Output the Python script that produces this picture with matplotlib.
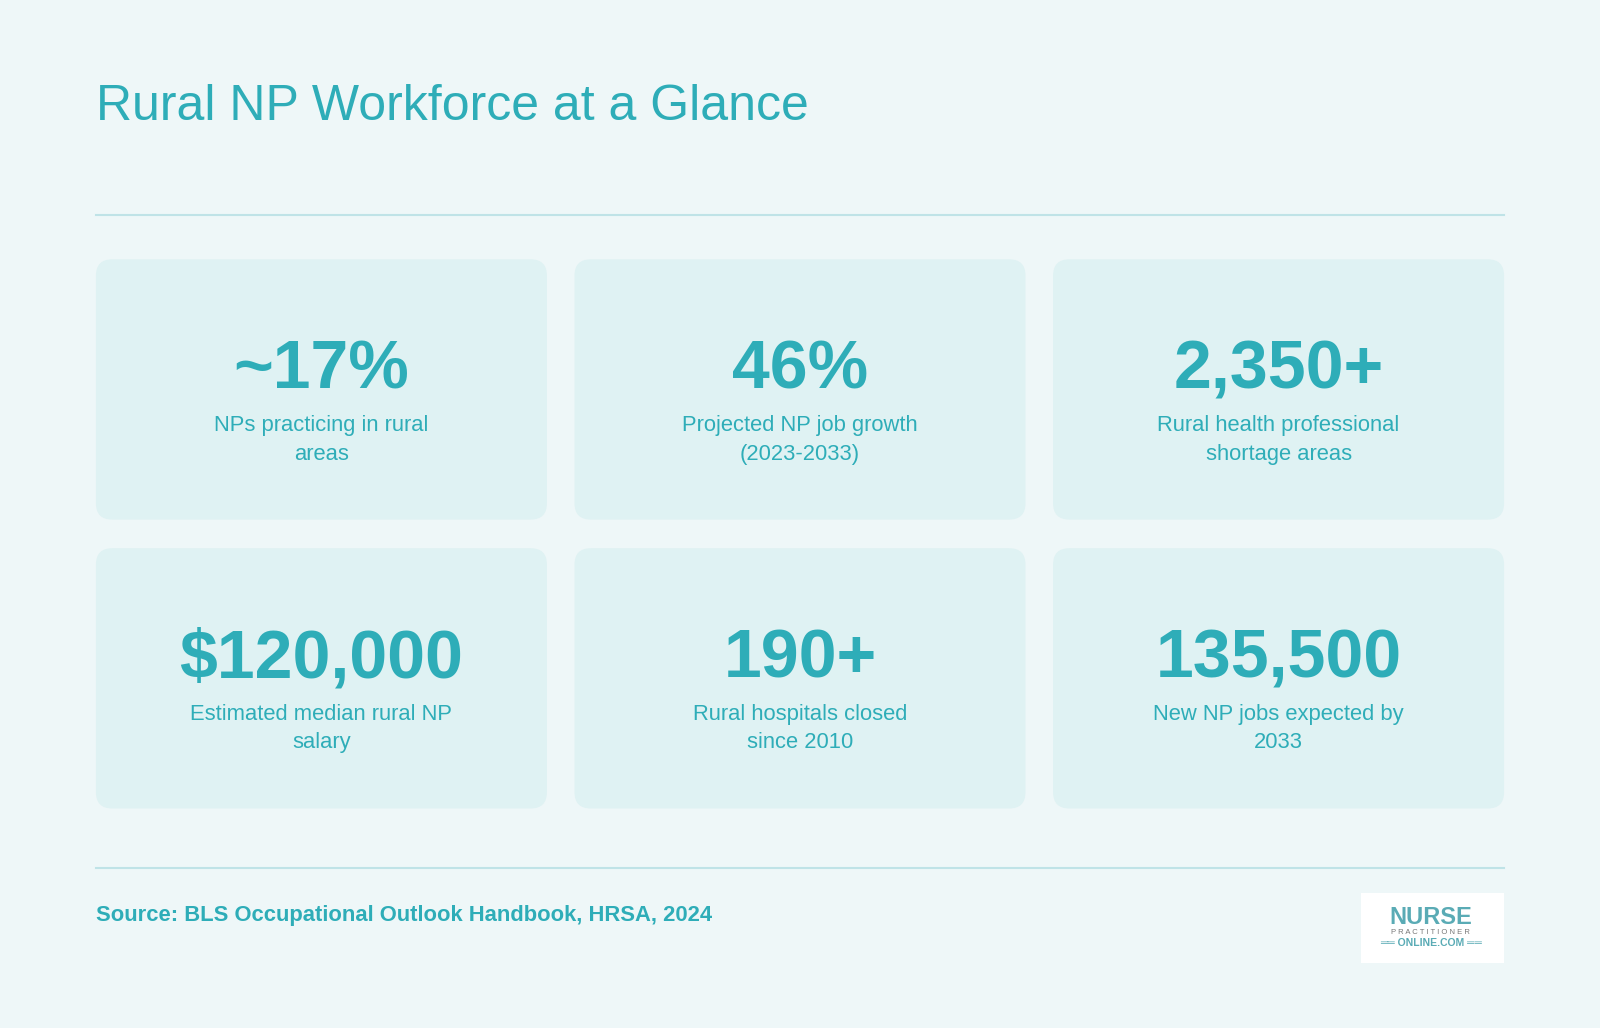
import matplotlib.pyplot as plt
from matplotlib.patches import FancyBboxPatch, Rectangle

values = ["~17%", "46%", "2,350+", "$120,000", "190+", "135,500"]
labels = ["NPs practicing in rural\nareas", "Projected NP job growth\n(2023-2033)",
          "Rural health professional\nshortage areas", "Estimated median rural NP\nsalary",
          "Rural hospitals closed\nsince 2010", "New NP jobs expected by\n2033"]

TEAL = "#2eadb8"
BG = "#eef7f8"
CARD = "#dff2f3"
LINE = "#bfe3e7"

W, H = 1568, 1007
fig = plt.figure(figsize=(16, 10.28), dpi=100, facecolor=BG)
ax = fig.add_axes([0, 0, 1, 1])
ax.set_xlim(0, W)
ax.set_ylim(H, 0)
ax.axis("off")
plt.rcParams["font.family"] = ["Liberation Sans", "DejaVu Sans"]

ax.text(94, 105, "Rural NP Workforce at a Glance", color=TEAL, fontsize=36, va="center")
ax.plot([94, 1474], [211, 211], color=LINE, lw=1.5)
ax.plot([94, 1474], [850, 850], color=LINE, lw=1.5)

xs = [94, 563, 1032]
ys = [254, 537]
cw, ch = 442, 255
for i, (v, lab) in enumerate(zip(values, labels)):
    x0 = xs[i % 3]
    y0 = ys[i // 3]
    ax.add_patch(FancyBboxPatch((x0 + 16, y0 + 16), cw - 32, ch - 32,
                                boxstyle="round,pad=16", fc=CARD, ec="none"))
    cx = x0 + cw / 2
    ax.text(cx, y0 + 109, v, color=TEAL, fontsize=49, fontweight="bold",
            ha="center", va="center")
    ax.text(cx, y0 + 177, lab, color=TEAL, fontsize=15.8, ha="center", va="center",
            linespacing=1.45)

ax.text(94, 897, "Source: BLS Occupational Outlook Handbook, HRSA, 2024", color=TEAL,
        fontsize=15.8, fontweight="bold", va="center")

# logo
ax.add_patch(Rectangle((1334, 875), 140, 68, fc="white", ec="none"))
ax.text(1402, 899, "NURSE", color="#5aabb5", fontsize=17, fontweight="bold", ha="center", va="center")
ax.text(1402, 913, "P R A C T I T I O N E R", color="#777777", fontsize=5.5, ha="center", va="center")
ax.text(1402, 924, "══ ONLINE.COM ══", color="#5aabb5", fontsize=7.5, fontweight="bold", ha="center", va="center")

fig.savefig("out.png", dpi=100, facecolor=BG)
